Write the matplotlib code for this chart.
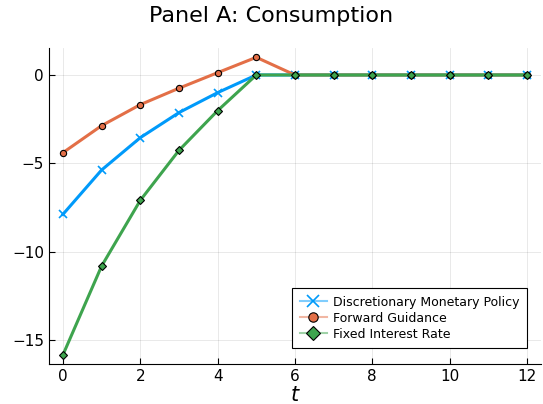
import numpy as np
import matplotlib.pyplot as plt
from matplotlib.colors import to_rgb

t = np.arange(13)
discretionary = [-7.89, -5.38, -3.55, -2.13, -1.0, 0, 0, 0, 0, 0, 0, 0, 0]
forward_guidance = [-4.4, -2.87, -1.68, -0.75, 0.13, 1.0, 0, 0, 0, 0, 0, 0, 0]
fixed_rate = [-15.85, -10.82, -7.1, -4.27, -2.02, 0, 0, 0, 0, 0, 0, 0, 0]

blue, orange, green = '#009AFA', '#E36F47', '#3EA44E'

fig = plt.figure(figsize=(5.43, 4.04), dpi=100)
ax = fig.add_axes([0.0902, 0.099, 0.906, 0.781])

ax.plot(t, discretionary, color=blue, lw=2.2, marker='x', ms=6, mew=1.2,
        mec=blue, label='Discretionary Monetary Policy')
ax.plot(t, forward_guidance, color=orange, lw=2.2, marker='o', ms=4.5,
        mfc=orange, mec='black', mew=0.8, label='Forward Guidance')
ax.plot(t, fixed_rate, color=green, lw=2.2, marker='D', ms=4.5,
        mfc=green, mec='black', mew=0.8, label='Fixed Interest Rate')

ax.set_xlim(-0.36, 12.36)
ax.set_ylim(-16.36, 1.5)
ax.set_xticks(range(0, 13, 2))
ax.set_yticks([-15, -10, -5, 0])
ax.grid(True, color='black', alpha=0.1, lw=0.6)
ax.spines['top'].set_visible(False)
ax.spines['right'].set_visible(False)
ax.tick_params(direction='in', length=4, labelsize=11, colors='black')
ax.set_xlabel('$t$', fontsize=15, labelpad=1)
fig.suptitle('Panel A: Consumption', fontsize=16, y=0.985)

leg = ax.legend(loc='lower right', bbox_to_anchor=(0.985, 0.03), fontsize=9,
                fancybox=False, edgecolor='black', framealpha=1,
                handlelength=2.2, borderpad=0.6, labelspacing=0.25,
                markerscale=1.5, handletextpad=0.5)
leg.get_frame().set_linewidth(0.8)
for line in leg.get_lines():
    c = np.array(to_rgb(line.get_color()))
    line.set_color(tuple(0.5 * c + 0.5))
    line.set_linewidth(1.5)

fig.savefig('out.png', dpi=100)
